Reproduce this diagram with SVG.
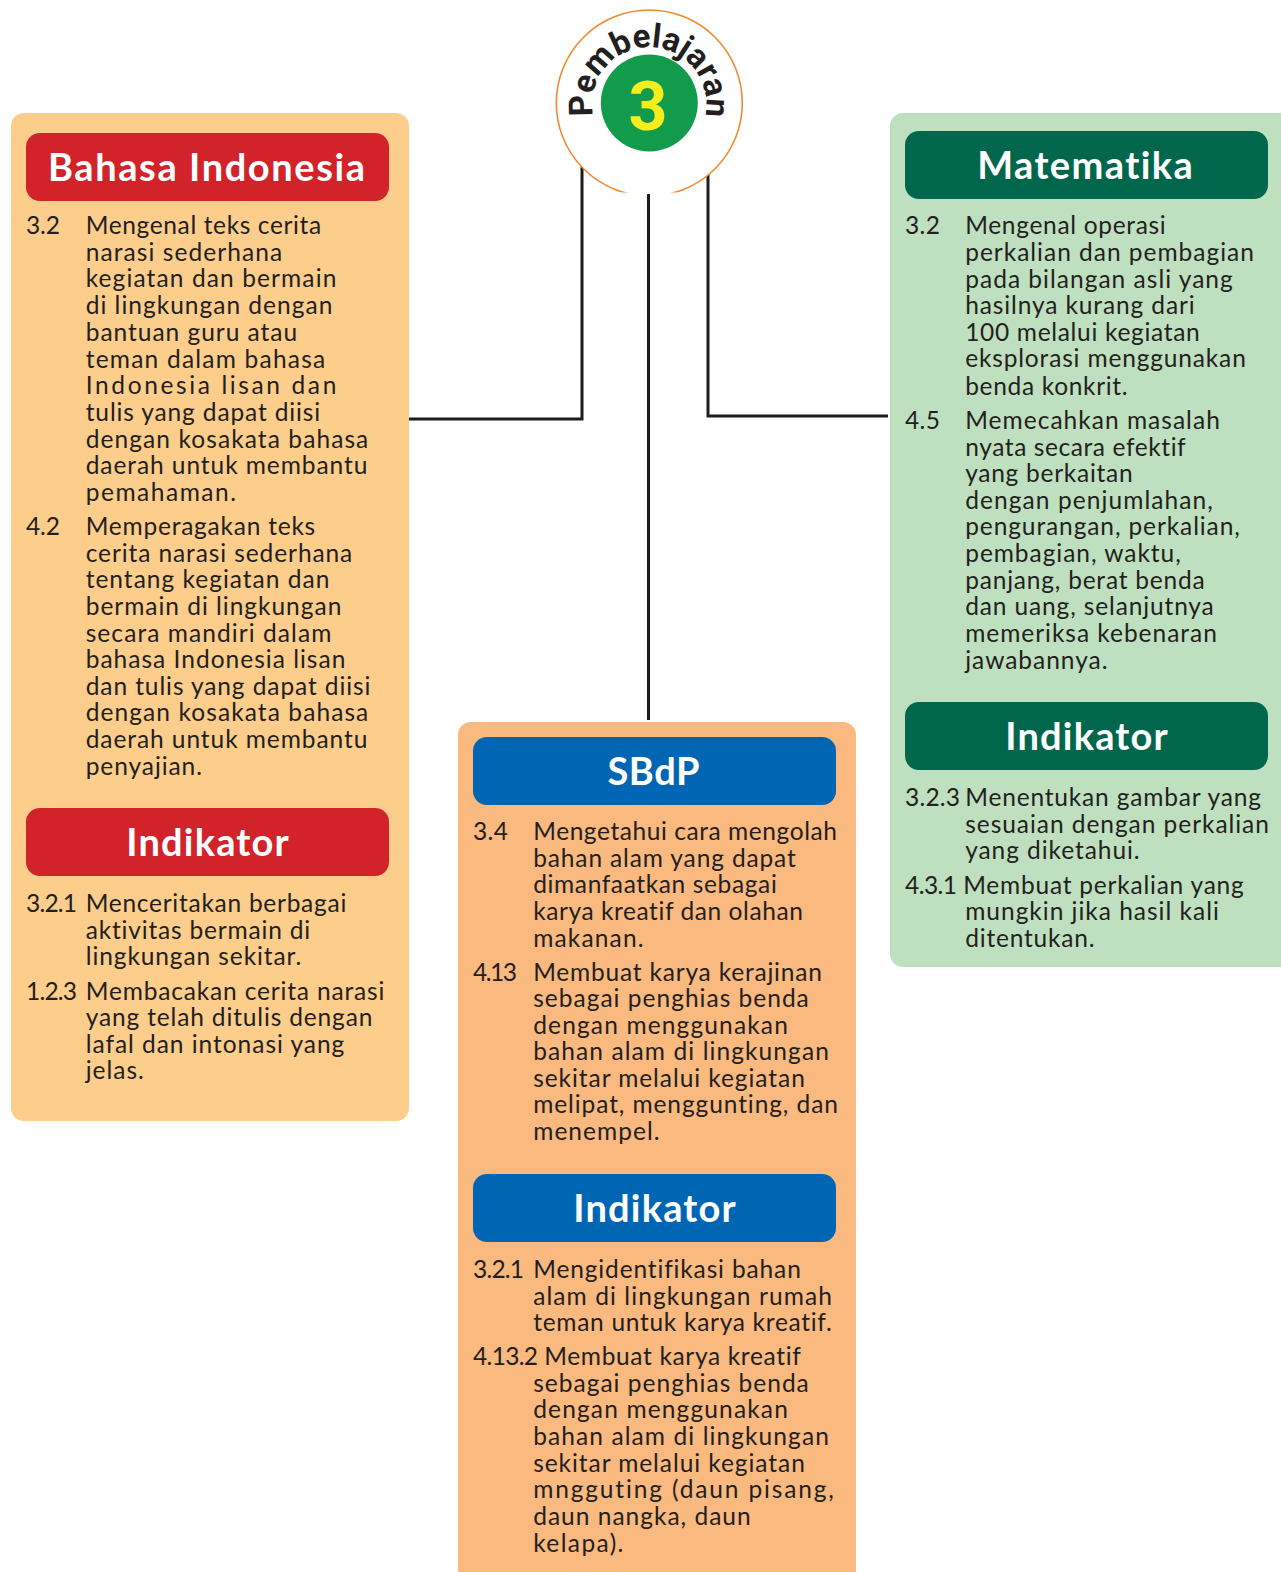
<svg xmlns="http://www.w3.org/2000/svg" width="1281" height="1572" viewBox="0 0 1281 1572">
<style>
.t{font-family:"Lato","Open Sans",sans-serif;font-size:24.5px;fill:#231f20;font-variant-ligatures:none}
.h{font-family:"Lato","Open Sans",sans-serif;font-size:38px;font-weight:700;fill:#fff;font-variant-ligatures:none}
.c{fill:none;stroke:#1f1c1d;stroke-width:3}
.r{fill:#d2232a}.g{fill:#00664c}.b{fill:#0066b3}
</style>
<defs><path id="arc" d="M593.5 116A57 57 0 1 1 705 116"/><clipPath id="top"><rect x="540" y="0" width="220" height="192.5"/></clipPath></defs>
<rect width="1281" height="1572" fill="#fff"/>
<g id="connectors">
<path class="c" d="M409 419H582V167"/>
<path class="c" d="M648.5 194V720"/>
<path class="c" d="M708 175V416H888"/>
</g>
<g id="badge">
<circle cx="649.3" cy="103" r="93" fill="#fff" stroke="#f08a2c" stroke-width="1.6" clip-path="url(#top)"/>
<circle cx="649.3" cy="103" r="48.5" fill="#129b4a"/>
<text x="648" y="130" text-anchor="middle" font-family="Roboto,sans-serif" font-weight="700" font-size="68" fill="#f7ec1c">3</text>
<text font-family="Roboto,sans-serif" font-weight="700" font-size="33" fill="#231f20"><textPath href="#arc" textLength="203" lengthAdjust="spacing">Pembelajaran</textPath></text>
</g>
<g id="bahasa-indonesia">
<rect x="11" y="113" width="398" height="1008" rx="13" fill="#fccd8b"/>
<rect class="r" x="26" y="133" width="363" height="68" rx="14"/>
<text class="h" x="48" y="181" textLength="317">Bahasa Indonesia</text>
<text class="t" x="26" y="234" textLength="34">3.2</text>
<text class="t" x="85.7" y="234" textLength="235.5">Mengenal teks cerita</text>
<text class="t" x="85.7" y="261" textLength="196.5">narasi sederhana</text>
<text class="t" x="85.7" y="287" textLength="250.6">kegiatan dan bermain</text>
<text class="t" x="85.7" y="314" textLength="246.6">di lingkungan dengan</text>
<text class="t" x="85.7" y="340.5" textLength="211.5">bantuan guru atau</text>
<text class="t" x="85.7" y="367.5" textLength="239.5">teman dalam bahasa</text>
<text class="t" x="85.7" y="393.5" textLength="250.6">Indonesia lisan dan</text>
<text class="t" x="85.7" y="420.5" textLength="234.5">tulis yang dapat diisi</text>
<text class="t" x="85.7" y="447.5" textLength="282.6">dengan kosakata bahasa</text>
<text class="t" x="85.7" y="473.7" textLength="281.6">daerah untuk membantu</text>
<text class="t" x="85.7" y="500.8" textLength="150.3">pemahaman.</text>
<text class="t" x="26" y="534.9" textLength="34">4.2</text>
<text class="t" x="85.7" y="534.9" textLength="229.5">Memperagakan teks</text>
<text class="t" x="85.7" y="561.9" textLength="266.6">cerita narasi sederhana</text>
<text class="t" x="85.7" y="588" textLength="243.6">tentang kegiatan dan</text>
<text class="t" x="85.7" y="615" textLength="255.6">bermain di lingkungan</text>
<text class="t" x="85.7" y="642.1" textLength="245.6">secara mandiri dalam</text>
<text class="t" x="85.7" y="668.2" textLength="259.6">bahasa Indonesia lisan</text>
<text class="t" x="85.7" y="695.3" textLength="284.7">dan tulis yang dapat diisi</text>
<text class="t" x="85.7" y="721.3" textLength="282.6">dengan kosakata bahasa</text>
<text class="t" x="85.7" y="748.4" textLength="281.6">daerah untuk membantu</text>
<text class="t" x="85.7" y="774.5" textLength="116.3">penyajian.</text>
<rect class="r" x="26" y="808" width="363" height="68" rx="14"/>
<text class="h" x="126.3" y="856" textLength="162.4">Indikator</text>
<text class="t" x="26" y="911.8" textLength="51">3.2.1</text>
<text class="t" x="85.7" y="911.8" textLength="260.6">Menceritakan berbagai</text>
<text class="t" x="85.7" y="938.9" textLength="224.5">aktivitas bermain di</text>
<text class="t" x="85.7" y="965" textLength="215.5">lingkungan sekitar.</text>
<text class="t" x="26" y="1000.1" textLength="51">1.2.3</text>
<text class="t" x="85.7" y="1000.1" textLength="298.7">Membacakan cerita narasi</text>
<text class="t" x="85.7" y="1026.1" textLength="286.7">yang telah ditulis dengan</text>
<text class="t" x="85.7" y="1053.2" textLength="258.6">lafal dan intonasi yang</text>
<text class="t" x="85.7" y="1079.3" textLength="58.1">jelas.</text>
</g>
<g id="sbdp">
<rect x="458" y="722" width="398" height="862" rx="13" fill="#f9b97f"/>
<rect class="b" x="473" y="737" width="363" height="68" rx="14"/>
<text class="h" x="607.4" y="785" textLength="92.2">SBdP</text>
<text class="t" x="473" y="839.7" textLength="35">3.4</text>
<text class="t" x="533.2" y="839.7" textLength="303.7">Mengetahui cara mengolah</text>
<text class="t" x="533.2" y="866.7" textLength="262.6">bahan alam yang dapat</text>
<text class="t" x="533.2" y="892.8" textLength="243.6">dimanfaatkan sebagai</text>
<text class="t" x="533.2" y="919.9" textLength="269.6">karya kreatif dan olahan</text>
<text class="t" x="533.2" y="946.9" textLength="110.3">makanan.</text>
<text class="t" x="473" y="981" textLength="44">4.13</text>
<text class="t" x="533.2" y="981" textLength="288.7">Membuat karya kerajinan</text>
<text class="t" x="533.2" y="1007.1" textLength="275.6">sebagai penghias benda</text>
<text class="t" x="533.2" y="1034.2" textLength="254.6">dengan menggunakan</text>
<text class="t" x="533.2" y="1060.2" textLength="295.7">bahan alam di lingkungan</text>
<text class="t" x="533.2" y="1087.3" textLength="271.6">sekitar melalui kegiatan</text>
<text class="t" x="533.2" y="1113.4" textLength="304.7">melipat, menggunting, dan</text>
<text class="t" x="533.2" y="1140.4" textLength="126.3">menempel.</text>
<rect class="b" x="473" y="1174" width="363" height="68" rx="14"/>
<text class="h" x="573.3" y="1222" textLength="162.4">Indikator</text>
<text class="t" x="473" y="1277.8" textLength="51">3.2.1</text>
<text class="t" x="533.2" y="1277.8" textLength="267.6">Mengidentifikasi bahan</text>
<text class="t" x="533.2" y="1304.9" textLength="298.7">alam di lingkungan rumah</text>
<text class="t" x="533.2" y="1330.9" textLength="298.7">teman untuk karya kreatif.</text>
<text class="t" x="473" y="1365" textLength="65">4.13.2</text>
<text class="t" x="544.2" y="1365" textLength="256.6">Membuat karya kreatif</text>
<text class="t" x="533.2" y="1392.1" textLength="275.6">sebagai penghias benda</text>
<text class="t" x="533.2" y="1418.2" textLength="254.6">dengan menggunakan</text>
<text class="t" x="533.2" y="1445.2" textLength="295.7">bahan alam di lingkungan</text>
<text class="t" x="533.2" y="1472.3" textLength="271.6">sekitar melalui kegiatan</text>
<text class="t" x="533.2" y="1498.4" textLength="300.7">mngguting (daun pisang,</text>
<text class="t" x="533.2" y="1525.4" textLength="217.5">daun nangka, daun</text>
<text class="t" x="533.2" y="1551.5" textLength="90.2">kelapa).</text>
</g>
<g id="matematika">
<rect x="890" y="113" width="404" height="854" rx="13" fill="#bfe0bf"/>
<rect class="g" x="905" y="131" width="363" height="68" rx="14"/>
<text class="h" x="977.2" y="179" textLength="215.5">Matematika</text>
<text class="t" x="905" y="234" textLength="35">3.2</text>
<text class="t" x="965.2" y="234" textLength="200.5">Mengenal operasi</text>
<text class="t" x="965.2" y="261" textLength="288.7">perkalian dan pembagian</text>
<text class="t" x="965.2" y="288" textLength="267.6">pada bilangan asli yang</text>
<text class="t" x="965.2" y="314" textLength="229.5">hasilnya kurang dari</text>
<text class="t" x="965.2" y="341.4" textLength="234.5">100 melalui kegiatan</text>
<text class="t" x="965.2" y="367.4" textLength="280.6">eksplorasi menggunakan</text>
<text class="t" x="965.2" y="394.5" textLength="162.4">benda konkrit.</text>
<text class="t" x="905" y="428.6" textLength="35">4.5</text>
<text class="t" x="965.2" y="428.6" textLength="254.6">Memecahkan masalah</text>
<text class="t" x="965.2" y="455.7" textLength="220.5">nyata secara efektif</text>
<text class="t" x="965.2" y="481.7" textLength="167.4">yang berkaitan</text>
<text class="t" x="965.2" y="508.8" textLength="247.6">dengan penjumlahan,</text>
<text class="t" x="965.2" y="534.9" textLength="274.6">pengurangan, perkalian,</text>
<text class="t" x="965.2" y="561.9" textLength="215.5">pembagian, waktu,</text>
<text class="t" x="965.2" y="589" textLength="239.5">panjang, berat benda</text>
<text class="t" x="965.2" y="615" textLength="248.6">dan uang, selanjutnya</text>
<text class="t" x="965.2" y="642.1" textLength="251.6">memeriksa kebenaran</text>
<text class="t" x="965.2" y="669.2" textLength="142.3">jawabannya.</text>
<rect class="g" x="905" y="702" width="363" height="68" rx="14"/>
<text class="h" x="1005.3" y="750" textLength="162.4">Indikator</text>
<text class="t" x="905" y="805.6" textLength="55">3.2.3</text>
<text class="t" x="965.2" y="805.6" textLength="295.7">Menentukan gambar yang</text>
<text class="t" x="965.2" y="832.6" textLength="303.7">sesuaian dengan perkalian</text>
<text class="t" x="965.2" y="858.7" textLength="174.4">yang diketahui.</text>
<text class="t" x="905" y="893.8" textLength="52">4.3.1</text>
<text class="t" x="963.2" y="893.8" textLength="280.6">Membuat perkalian yang</text>
<text class="t" x="965.2" y="919.9" textLength="253.6">mungkin jika hasil kali</text>
<text class="t" x="965.2" y="946.9" textLength="129.3">ditentukan.</text>
</g>
</svg>
